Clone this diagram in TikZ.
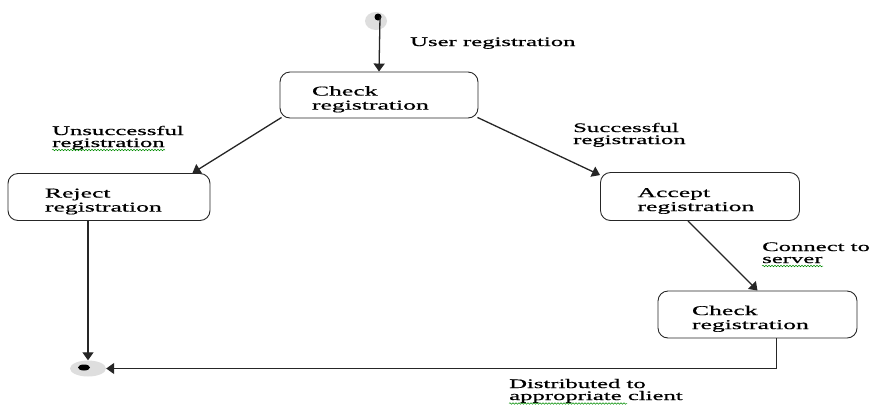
\documentclass[tikz,border=0pt]{standalone}
\usepackage{fontspec}
\setmainfont{Liberation Serif}
\newfontfamily\widefont[FakeStretch=1.9,FakeBold=0.6]{Liberation Serif}
\usetikzlibrary{arrows.meta,decorations.pathmorphing,shapes.geometric}
\newcommand{\tstrut}{\rule{0pt}{18pt}}
\tikzset{
  box/.style={draw=black!85, line width=0.9pt, rounded corners=10pt, align=left,
    inner ysep=0pt, font=\widefont\fontsize{13.5}{14}\selectfont},
  lbl/.style={anchor=base west, align=left, inner sep=0pt,
    font=\widefont\fontsize{13}{12}\selectfont},
  arr/.style={draw=black!85, line width=1.3pt, -{Triangle[length=8pt,width=11pt]}},
  squig/.style={draw=green!55!black, line width=0.5pt, decorate,
    decoration={snake, amplitude=0.8pt, segment length=3pt}}
}
\begin{document}
\begin{tikzpicture}[x=1pt,y=-1pt]
\useasboundingbox (0,0) rectangle (874,405);
% start
\fill[black!13] (376,21) ellipse (11 and 9);
\node[circle, fill=black, inner sep=0pt, minimum size=7pt] (start) at (378,17) {};
% boxes
\node[box, minimum width=198pt, minimum height=46pt, text width=134pt, inner xsep=32pt] (check1) at (379,95) {\tstrut Check\\registration};
\node[box, minimum width=202pt, minimum height=47pt, text width=128pt, inner xsep=37pt] (reject) at (109,197) {\tstrut Reject\\registration};
\node[box, minimum width=199pt, minimum height=48pt, text width=125pt, inner xsep=37pt] (accept) at (700,196.5) {\tstrut Accept\\registration};
\node[box, minimum width=199pt, minimum height=47pt, text width=131pt, inner xsep=34pt] (check2) at (757.5,314.5) {\tstrut Check\\registration};
% end
\node[ellipse, fill=black!13, minimum width=36pt, minimum height=16pt, inner sep=0pt] (end) at (88,368.5) {};
\fill[black] (84,367.5) ellipse (6 and 3);
% connectors
\draw[arr] ([xshift=2pt]start.center) -- (check1.north);
\draw[arr] ([xshift=2pt,yshift=1pt]check1.south west) -- ([xshift=-18pt]reject.north east);
\draw[arr] ([xshift=-1pt,yshift=1pt]check1.south east) -- ([yshift=-3pt]accept.north west);
\draw[arr] ([xshift=-12pt]accept.south) -- (check2.north);
\draw[arr] (reject.south -| end.north) -- (end.north);
\draw[arr] ([xshift=19pt]check2.south) |- (end.east);
% labels (base = baseline of last line)
\node[lbl] (l1) at (410,46) {User registration};
\node[lbl] (l2) at (52,147) {Unsuccessful\\registration};
\node[lbl] (l3) at (573,144) {Successful\\registration};
\node[lbl] (l4) at (762,263) {Connect to\\server};
\node[lbl] (l5) at (509,400) {Distributed to\\appropriate client};
% spell-check squiggles
\draw[squig] (52,150) -- (165,150);
\draw[squig] (762,266) -- (823,266);
\draw[squig] (509,403.5) -- (627,403.5);
\end{tikzpicture}
\end{document}
